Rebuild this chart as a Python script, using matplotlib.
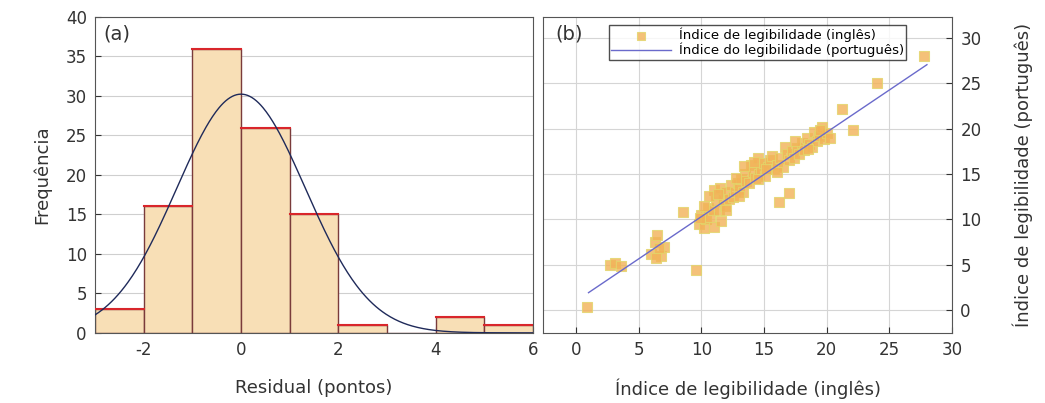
import numpy as np
import matplotlib
matplotlib.use("Agg")
import matplotlib.pyplot as plt

# ---------------- data ----------------
# (a) histogram of residuals
bin_edges = [-3, -2, -1, 0, 1, 2, 3, 4, 5, 6]
bin_counts = [3, 16, 36, 26, 15, 1, 0, 2, 1]
# fitted normal curve parameters
fit_mu = 0.0
fit_sigma = 1.32
fit_n = 100

# (b) scatter: readability index English vs Portuguese
x_en = [0.9, 2.7, 3.1, 3.6, 6.0, 6.3, 6.5, 6.8, 7.0, 6.4, 6.6, 8.5, 9.6,
        9.8, 10.0, 10.2, 10.4, 10.5, 10.7, 10.9, 11.0, 11.2, 11.4, 11.5, 11.7,
        11.9, 12.0, 12.2, 12.4, 12.5, 12.7, 12.9, 13.0, 13.2, 13.3, 13.5, 13.6,
        13.8, 14.0, 14.1, 14.3, 14.5, 14.6, 14.8, 15.0, 15.1, 15.3, 15.5, 15.6,
        15.8, 16.0, 16.3, 16.5, 16.7, 16.8, 17.0, 17.2, 17.4, 17.6, 17.8, 18.0,
        18.2, 18.4, 18.6, 18.8, 19.0, 19.2, 19.4, 19.6, 19.8, 20.0, 20.3, 21.2,
        22.1, 24.0, 27.8, 16.2, 17.0, 11.0, 11.6, 12.0, 14.5, 15.2, 13.0, 10.2,
        10.6, 12.8, 14.2, 16.0, 18.5, 19.5, 9.9, 11.3, 13.4, 17.5]
y_pt = [0.3, 5.0, 5.2, 4.9, 6.2, 7.5, 8.3, 6.0, 7.0, 5.8, 6.8, 10.8, 4.4,
        9.5, 10.5, 9.0, 10.0, 11.2, 10.3, 11.0, 13.2, 12.0, 11.0, 13.5, 12.2,
        11.5, 13.0, 12.3, 13.8, 12.5, 13.0, 14.0, 13.3, 14.5, 13.0, 15.0, 14.2,
        14.0, 16.0, 15.2, 14.6, 16.8, 15.0, 15.6, 16.2, 14.8, 15.8, 16.5, 17.0,
        15.5, 16.0, 16.8, 15.8, 18.0, 17.2, 16.5, 17.5, 16.8, 17.9, 17.2, 18.4,
        17.6, 19.0, 18.3, 18.0, 19.6, 18.6, 19.2, 20.2, 18.8, 19.5, 19.0, 22.2,
        19.8, 25.0, 28.0, 11.9, 12.9, 9.2, 9.8, 11.0, 14.5, 15.6, 12.6, 11.5,
        12.6, 14.6, 16.3, 15.2, 17.8, 19.9, 10.2, 12.8, 15.9, 18.6]
# regression line (endpoints of fitted line range)
line_x = [1.0, 28.0]
line_slope = 0.93
line_intercept = 1.0

# ---------------- figure ----------------
plt.rcParams['font.family'] = ['DejaVu Sans']
plt.rcParams['axes.unicode_minus'] = False
fig = plt.figure(figsize=(10.45, 4.03), dpi=100)
text_col = '#333333'

# ---- (a) ----
ax1 = fig.add_axes([0.091, 0.174, 0.419, 0.784])
widths = np.diff(bin_edges)
lefts = np.array(bin_edges[:-1])
ax1.bar(lefts, bin_counts, width=widths, align='edge', color='#f8dfb6',
        edgecolor='#7a3b3b', linewidth=1.0, zorder=2)
# red tops on bars
for l, w, c in zip(lefts, widths, bin_counts):
    if c > 0:
        ax1.plot([l, l + w], [c, c], color='#d9262b', lw=1.5, zorder=3)
xs = np.linspace(-3, 6, 400)
ys = fit_n / (fit_sigma * np.sqrt(2 * np.pi)) * np.exp(-0.5 * ((xs - fit_mu) / fit_sigma) ** 2)
ax1.plot(xs, ys, color='#1f2a5a', lw=1.0, zorder=4)
ax1.set_xlim(-3, 6)
ax1.set_ylim(0, 40)
ax1.set_xticks([-2, 0, 2, 4, 6])
ax1.set_yticks(range(0, 41, 5))
ax1.grid(axis='y', color='#cfcfcf', lw=0.8, zorder=0)
ax1.set_axisbelow(True)
ax1.tick_params(direction='in', labelsize=12, colors=text_col, length=4, pad=6)
ax1.set_xlabel('Residual (pontos)', fontsize=13, color=text_col, labelpad=14)
ax1.set_ylabel('Frequência', fontsize=13, color=text_col, labelpad=10)
ax1.text(0.02, 0.975, '(a)', transform=ax1.transAxes, fontsize=14,
         va='top', ha='left', color=text_col)
for s in ax1.spines.values():
    s.set_color('#555555')

# ---- (b) ----
ax2 = fig.add_axes([0.520, 0.174, 0.391, 0.784])
ax2.scatter(x_en, y_pt, s=60, marker='s', color='#f2b257', edgecolors='#e3d56a',
            linewidths=0.8, alpha=0.8, zorder=3,
            label='Índice de legibilidade (inglês)')
lx = np.array(line_x)
ax2.plot(lx, line_slope * lx + line_intercept, color='#6a6acb', lw=1.0, zorder=4,
         label='Índice do legibilidade (português)')
ax2.set_xlim(-2.6, 30)
ax2.set_ylim(-2.5, 32.3)
ax2.set_xticks(range(0, 31, 5))
ax2.set_yticks(range(0, 31, 5))
ax2.yaxis.tick_right()
ax2.yaxis.set_label_position('right')
ax2.grid(color='#d5d5d5', lw=0.8, zorder=0)
ax2.set_axisbelow(True)
ax2.tick_params(direction='in', labelsize=12, colors=text_col, length=4,
                right=True, left=False, pad=6)
ax2.set_xlabel('Índice de legibilidade (inglês)', fontsize=13, color=text_col, labelpad=14)
ax2.set_ylabel('Índice de legibilidade (português)', fontsize=13, color=text_col,
               labelpad=22)
ax2.text(0.03, 0.975, '(b)', transform=ax2.transAxes, fontsize=14,
         va='top', ha='left', color=text_col)
leg = ax2.legend(loc='upper center', bbox_to_anchor=(0.524, 0.995), fontsize=9.5,
                 frameon=True, fancybox=False, handlelength=4.5,
                 borderpad=0.2, labelspacing=0.05, handletextpad=0.6,
                 markerscale=0.8)
leg.get_frame().set_edgecolor('#222222')
leg.get_frame().set_linewidth(1.0)
for s in ax2.spines.values():
    s.set_color('#555555')

fig.savefig('out.png', dpi=100)
